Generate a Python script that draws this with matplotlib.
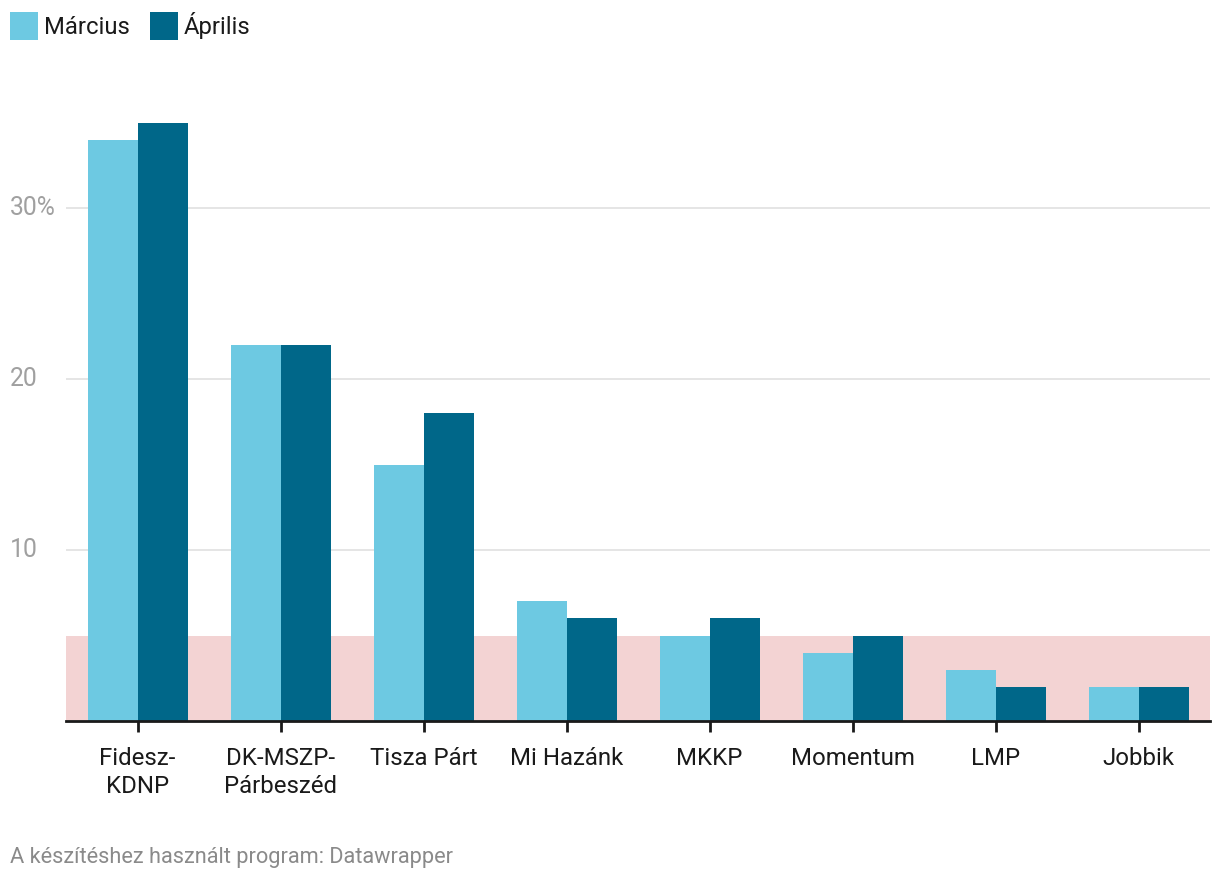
import matplotlib
matplotlib.use("Agg")
import matplotlib.pyplot as plt
import numpy as np
from matplotlib.patches import Rectangle

plt.rcParams['font.family'] = ['Roboto', 'DejaVu Sans']

parties = ["Fidesz-\nKDNP", "DK-MSZP-\nPárbeszéd", "Tisza Párt", "Mi Hazánk", "MKKP",
           "Momentum", "LMP", "Jobbik"]
marcius = [34, 22, 15, 7, 5, 4, 3, 2]
aprilis = [35, 22, 18, 6, 6, 5, 2, 2]
series_names = ["Március", "Április"]
yticks = [10, 20, 30]
ytick_labels = ["10", "20", "30%"]
threshold = 5

c_light = "#6dc9e2"
c_dark = "#006789"
c_band = "#f3d3d3"

W, H = 1220, 882
fig = plt.figure(figsize=(W / 100, H / 100), dpi=100)
ymax = 36
px_per = 17.1
ax_left, ax_right = 66, 1210
ax_bottom = 721
ax_top = ax_bottom - ymax * px_per
ax = fig.add_axes([ax_left / W, 1 - ax_bottom / H, (ax_right - ax_left) / W, (ax_bottom - ax_top) / H])

x = np.arange(len(parties))
bw = 50 / 143
ax.axhspan(0, threshold, color=c_band, zorder=0, lw=0)
ax.bar(x - bw / 2, marcius, width=bw, color=c_light, zorder=2, lw=0)
ax.bar(x + bw / 2, aprilis, width=bw, color=c_dark, zorder=2, lw=0)

ax.set_xlim(-0.5, len(parties) - 0.5)
ax.set_ylim(0, ymax)
for s in ["top", "right", "left"]:
    ax.spines[s].set_visible(False)
ax.spines["bottom"].set_color("#1a1a1a")
ax.spines["bottom"].set_linewidth(2)
ax.spines["bottom"].set_zorder(3)

ax.set_yticks(yticks)
ax.set_yticklabels([])
ax.tick_params(axis='y', length=0)
for t in yticks:
    ax.axhline(t, color="#e0e0e0", lw=1.2, zorder=1)
for t, lab in zip(yticks, ytick_labels):
    fig.text(10 / W, 1 - (ax_bottom - t * px_per) / H, lab, ha="left", va="center",
             fontsize=17.8, color="#a0a0a0")

ax.set_xticks(x)
ax.set_xticklabels(parties, fontsize=17.3, color="#1a1a1a", linespacing=1.25)
ax.tick_params(axis='x', length=8, width=2, color="#1a1a1a", pad=11)

# legend
for i, (name, col, lx) in enumerate(zip(series_names, [c_light, c_dark], [10, 150])):
    fig.patches.append(Rectangle((lx / W, 1 - 40 / H), 28 / W, 28 / H, transform=fig.transFigure,
                                 color=col, lw=0))
    fig.text((lx + 34) / W, 1 - 34 / H, name, ha="left", va="baseline", fontsize=17.2, color="#1a1a1a")

fig.text(10 / W, 1 - 863 / H, "A készítéshez használt program: Datawrapper", ha="left", va="baseline",
         fontsize=15.7, color="#8a8a8a")

fig.savefig("out.png", dpi=100, facecolor="white")
